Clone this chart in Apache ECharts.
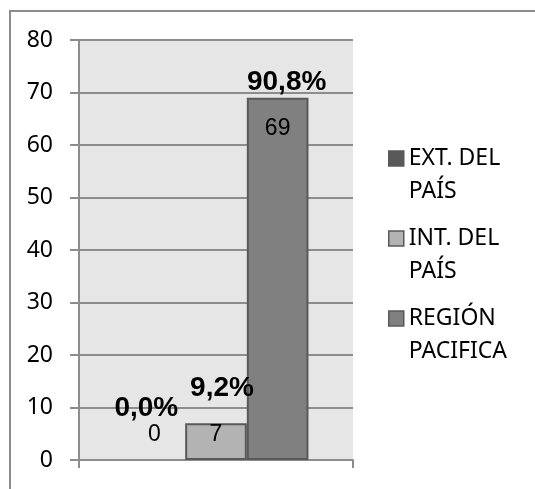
<!DOCTYPE html>
<html>
<head>
<meta charset="utf-8">
<script src="https://cdn.jsdelivr.net/npm/echarts@6/dist/echarts.min.js"></script>
<style>
  html, body { margin: 0; padding: 0; background: #fff; }
  #main { position: absolute; left: 0; top: 0; width: 535px; height: 489px; }
  #frame { position: absolute; left: 9px; top: 10px; width: 530px; height: 485px;
           border-left: 2px solid #8c8c8c; border-top: 2px solid #8c8c8c; pointer-events: none; }
</style>
</head>
<body>
<div id="main"></div>
<div id="frame"></div>
<script>
// datos
var categorias = [''];
var nombres = ['EXT. DEL PAÍS', 'INT. DEL PAÍS', 'REGIÓN PACIFICA'];
var leyenda = ['EXT. DEL\nPAÍS', 'INT. DEL\nPAÍS', 'REGIÓN\nPACIFICA'];
var valores = [0, 7, 69];
var porcentajes = ['0,0%', '9,2%', '90,8%'];

// estilos por serie
var colores = ['#595959', '#b3b3b3', '#808080'];
var bordes = [0, 2, 2];
var altoValor = [23, 63, 62];     // lineHeight de la etiqueta de valor
var despY = [-14, 43, 62];        // desplazamiento vertical de la etiqueta
var despX = [-8, 6, 9];           // desplazamiento horizontal del porcentaje

var chart = echarts.init(document.getElementById('main'));

var series = nombres.map(function (n, i) {
  return {
    name: n,
    type: 'bar',
    barGap: 0,
    barCategoryGap: '32.5%',
    data: [valores[i]],
    itemStyle: {
      color: colores[i],
      borderColor: '#595959',
      borderWidth: bordes[i]
    },
    label: {
      show: true,
      position: 'top',
      distance: 0,
      offset: [0, despY[i]],
      formatter: function (p) {
        return '{p|' + porcentajes[i] + '}\n{v|' + p.value + '}';
      },
      rich: {
        p: {
          fontFamily: 'Liberation Sans',
          fontWeight: 'bold',
          fontSize: 28,
          lineHeight: 30,
          color: '#000',
          padding: despX[i] > 0 ? [0, 0, 0, 2 * despX[i]] : [0, -2 * despX[i], 0, 0]
        },
        v: {
          fontFamily: 'Liberation Sans',
          fontSize: 23,
          lineHeight: altoValor[i],
          color: '#000'
        }
      }
    }
  };
});

var option = {
  animation: false,
  backgroundColor: '#fff',
  grid: {
    left: 79,
    right: 182,
    top: 40,
    bottom: 29,
    show: true,
    backgroundColor: '#e6e6e6',
    borderWidth: 0
  },
  legend: {
    orient: 'vertical',
    left: 388,
    top: 109,
    padding: 0,
    itemGap: -19,
    itemWidth: 15,
    itemHeight: 15,
    icon: 'rect',
    data: nombres,
    formatter: function (name) {
      return '\n' + leyenda[nombres.indexOf(name)];
    },
    itemStyle: { borderColor: '#595959', borderWidth: 1.5 },
    textStyle: {
      fontFamily: 'Noto Sans',
      fontSize: 23,
      lineHeight: 33,
      color: '#000'
    }
  },
  xAxis: {
    type: 'category',
    data: categorias,
    axisLine: { lineStyle: { color: '#8c8c8c', width: 2 } },
    axisTick: { show: true, length: 8, lineStyle: { color: '#8c8c8c', width: 2 } },
    axisLabel: { show: false }
  },
  yAxis: {
    type: 'value',
    min: 0,
    max: 80,
    interval: 10,
    axisLine: { show: true, lineStyle: { color: '#8c8c8c', width: 2 } },
    axisTick: { show: true, length: 9, lineStyle: { color: '#8c8c8c', width: 2 } },
    splitLine: { lineStyle: { color: '#8c8c8c', width: 2 } },
    axisLabel: {
      margin: 26,
      fontFamily: 'Noto Sans',
      fontSize: 23,
      color: '#000'
    }
  },
  series: series
};

chart.setOption(option);
</script>
</body>
</html>
